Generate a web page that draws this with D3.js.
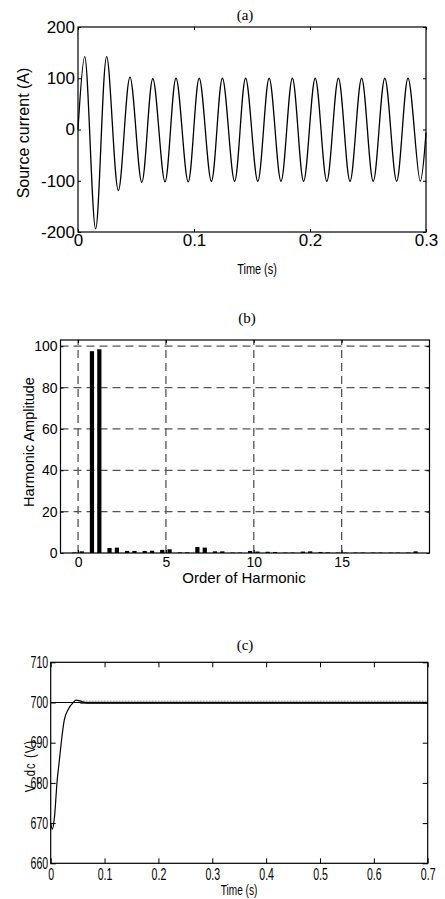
<!DOCTYPE html>
<html>
<head>
<meta charset="utf-8">
<script src="https://cdn.jsdelivr.net/npm/d3@7"></script>
<style>
body { margin: 0; background: #fff; }
svg { display: block; }
text { font-family: "Liberation Sans", Arial, Helvetica, sans-serif; fill: #000; }
.ttl { font-family: "Liberation Serif", "Times New Roman", serif; font-size: 15px; }
</style>
</head>
<body>
<script>
var w = 445;
var h = 899;

// (a) source current: peaks and troughs
var curT = [0, 0.0058, 0.0152, 0.0247, 0.0348, 0.0448, 0.055, 0.0645, 0.075, 0.0845,
            0.095, 0.1045, 0.115, 0.1245, 0.135, 0.1445, 0.155, 0.1648, 0.175, 0.1848,
            0.1945, 0.2045, 0.2145, 0.2245, 0.2345, 0.2445, 0.2545, 0.2645, 0.2747, 0.2845,
            0.295, 0.3];
var curA = [0, 142, -194, 142, -119, 102, -103, 99, -102, 100,
            -102, 100, -101, 100, -101, 100, -101, 100, -101, 100,
            -101, 100, -101, 100, -101, 100, -101, 100, -101, 100,
            -101, -6];
var curXTicks = [0, 0.1, 0.2, 0.3];
var curYTicks = [-200, -100, 0, 100, 200];

// (b) harmonic amplitudes, two bars per order
var harmOrder = [0, 1, 2, 3, 4, 5, 6, 7, 8, 9, 10, 11, 12, 13, 14, 15, 16, 17, 18, 19];
var harmA = [0.3, 97.6, 2.4, 1.0, 1.0, 1.5, 0.3, 2.9, 0.8, 0.2, 1.0, 0.6, 0.2, 0.7, 0.5, 0.2, 0.2, 0.2, 0.2, 0.2];
var harmB = [0.8, 98.5, 2.6, 1.0, 1.1, 1.8, 0.3, 2.6, 0.8, 0.2, 0.7, 0.5, 0.2, 0.8, 0.3, 0.2, 0.2, 0.2, 0.2, 0.8];
var harmXTicks = [0, 5, 10, 15];
var harmYTicks = [0, 20, 40, 60, 80, 100];

// (c) dc link voltage
var vdcT = [0, 0.003, 0.007, 0.012, 0.016, 0.02, 0.025, 0.033, 0.042, 0.047, 0.054, 0.067, 0.1, 0.2, 0.3, 0.4, 0.5, 0.6, 0.7];
var vdcV = [670, 668.5, 671.5, 680.6, 685.5, 690.5, 695.5, 698.4, 700, 700.6, 700.4, 699.9, 699.9, 699.9, 699.9, 699.9, 699.9, 699.9, 699.9];
var rippleT = [0.055, 0.2, 0.4, 0.7];
var rippleLo = [699.7, 699.7, 699.7, 699.7];
var rippleHi = [700.2, 700.2, 700.2, 700.2];
var rippleTop = [700.4, 700.4, 700.4, 700.4];
var vdcRef = 700;
var vdcXTicks = [0, 0.1, 0.2, 0.3, 0.4, 0.5, 0.6, 0.7];
var vdcYTicks = [660, 670, 680, 690, 700, 710];

var svg = d3.select("body").append("svg")
    .attr("width", w)
    .attr("height", h);

svg.append("rect").attr("width", w).attr("height", h).attr("fill", "#fff");

var fmt = function(d) { return String(d); };

// inward ticks on all four sides plus the box
function frame(x, y, xt, yt, tk) {
  var x0 = x.range()[0], x1 = x.range()[1], y0 = y.range()[0], y1 = y.range()[1];
  var axes = [
    [d3.axisBottom(x).tickValues(xt), "translate(0," + y0 + ")"],
    [d3.axisTop(x).tickValues(xt), "translate(0," + y1 + ")"],
    [d3.axisLeft(y).tickValues(yt), "translate(" + x0 + ",0)"],
    [d3.axisRight(y).tickValues(yt), "translate(" + x1 + ",0)"]
  ];
  axes.forEach(function(a) {
    var ag = svg.append("g").attr("transform", a[1]).call(a[0].tickSize(-tk).tickFormat(""));
    ag.select(".domain").remove();
    ag.selectAll("line").attr("stroke", "#000");
  });
  svg.append("rect")
    .attr("x", x0).attr("y", y1)
    .attr("width", x1 - x0).attr("height", y0 - y1)
    .attr("fill", "none").attr("stroke", "#000").attr("stroke-width", 1.2);
}

// tick labels only
function tickText(x, y, xt, yt, size, padX, padY, sx) {
  var gx = svg.append("g")
    .attr("transform", "translate(0," + y.range()[0] + ")")
    .call(d3.axisBottom(x).tickValues(xt).tickSize(0).tickPadding(padX).tickFormat(fmt));
  var gy = svg.append("g")
    .attr("transform", "translate(" + x.range()[0] + ",0)")
    .call(d3.axisLeft(y).tickValues(yt).tickSize(0).tickPadding(padY).tickFormat(fmt));
  [gx, gy].forEach(function(g) {
    g.attr("font-family", null).attr("font-size", null);
    g.select(".domain").remove();
    g.selectAll("text").style("font-size", size + "px");
  });
  if (sx) {
    gx.selectAll("text").attr("transform", "scale(" + sx + ",1)");
    gy.selectAll("text").attr("x", -padY / sx).attr("transform", "scale(" + sx + ",1)");
  }
}

function label(tx, ty, rot, size, sx, str) {
  var g = svg.append("g").attr("transform", "translate(" + tx + "," + ty + ") rotate(" + rot + ") scale(" + sx + ",1)");
  return g.append("text").attr("text-anchor", "middle").style("font-size", size + "px").text(str);
}

// ---------- (a) ----------
var xa = d3.scaleLinear().domain([0, 0.3]).range([78, 426]);
var ya = d3.scaleLinear().domain([-200, 200]).range([232, 27]);

var lineA = d3.line()
  .x(function(d, i) { return xa(curT[i]); })
  .y(function(d) { return ya(d); })
  .curve(d3.curveCatmullRom.alpha(0.5));

svg.append("path")
  .attr("d", lineA(curA))
  .attr("fill", "none")
  .attr("stroke", "#000")
  .attr("stroke-width", 1.3);

frame(xa, ya, curXTicks, curYTicks, 3);
tickText(xa, ya, curXTicks, curYTicks, 17, 2, 3);

svg.append("text").attr("class", "ttl").attr("x", 245).attr("y", 20).attr("text-anchor", "middle").text("(a)");
label(257, 274, 0, 14, 0.78, "Time (s)");
label(29, 133, -90, 16, 1, "Source current (A)");

// ---------- (b) ----------
var xb = d3.scaleLinear().domain([-1, 20]).range([60.5, 429.5]);
var yb = d3.scaleLinear().domain([0, 103]).range([553, 340]);
var off = 0.21, bw = 0.24;

harmXTicks.forEach(function(v) {
  svg.append("line")
    .attr("x1", xb(v)).attr("x2", xb(v))
    .attr("y1", yb.range()[0]).attr("y2", yb.range()[1])
    .attr("stroke", "#555").attr("stroke-width", 1.3).attr("stroke-dasharray", "8,5");
});
harmYTicks.slice(1).forEach(function(v) {
  svg.append("line")
    .attr("x1", xb.range()[0]).attr("x2", xb.range()[1])
    .attr("y1", yb(v)).attr("y2", yb(v))
    .attr("stroke", "#555").attr("stroke-width", 1.3).attr("stroke-dasharray", "8,5");
});

svg.selectAll("rect.ha")
  .data(harmA)
  .enter()
  .append("rect")
  .attr("class", "ha")
  .attr("x", function(d, i) { return xb(harmOrder[i] - off - bw / 2); })
  .attr("y", function(d) { return yb(d); })
  .attr("width", xb(bw) - xb(0))
  .attr("height", function(d) { return yb(0) - yb(d); })
  .attr("fill", "#000");

svg.selectAll("rect.hb")
  .data(harmB)
  .enter()
  .append("rect")
  .attr("class", "hb")
  .attr("x", function(d, i) { return xb(harmOrder[i] + off - bw / 2); })
  .attr("y", function(d) { return yb(d); })
  .attr("width", xb(bw) - xb(0))
  .attr("height", function(d) { return yb(0) - yb(d); })
  .attr("fill", "#000");

frame(xb, yb, harmXTicks, harmYTicks, 3);
tickText(xb, yb, harmXTicks, harmYTicks, 14, 4, 3);

svg.append("text").attr("class", "ttl").attr("x", 247).attr("y", 323).attr("text-anchor", "middle").text("(b)");
label(244, 583, 0, 15, 1, "Order of Harmonic");
label(33.7, 442, -90, 14.5, 1, "Harmonic Amplitude");

// ---------- (c) ----------
var xc = d3.scaleLinear().domain([0, 0.7]).range([50.7, 427.7]);
var yc = d3.scaleLinear().domain([660, 710]).range([863.3, 662.3]);

svg.append("line")
  .attr("x1", xc(0)).attr("x2", xc(0.7))
  .attr("y1", yc(vdcRef)).attr("y2", yc(vdcRef))
  .attr("stroke", "#000").attr("stroke-width", 1);

// grey speckle above the ripple band
var topLine = d3.line()
  .x(function(d, i) { return xc(rippleT[i]); })
  .y(function(d) { return yc(d); });

svg.append("path")
  .attr("d", topLine(rippleTop))
  .attr("fill", "none")
  .attr("stroke", "#999")
  .attr("stroke-width", 1)
  .attr("stroke-dasharray", "1,2");

var band = d3.area()
  .x(function(d, i) { return xc(rippleT[i]); })
  .y0(function(d, i) { return yc(rippleLo[i]); })
  .y1(function(d) { return yc(d); });

svg.append("path")
  .attr("d", band(rippleHi))
  .attr("fill", "#222");

var lineC = d3.line()
  .x(function(d, i) { return xc(vdcT[i]); })
  .y(function(d) { return yc(d); })
  .curve(d3.curveMonotoneX);

svg.append("path")
  .attr("d", lineC(vdcV))
  .attr("fill", "none")
  .attr("stroke", "#000")
  .attr("stroke-width", 1.2);

frame(xc, yc, vdcXTicks, vdcYTicks, 5);
tickText(xc, yc, vdcXTicks, vdcYTicks, 16, 5, 2.5, 0.66);

svg.append("text").attr("class", "ttl").attr("x", 245).attr("y", 650).attr("text-anchor", "middle").text("(c)");
label(239, 895, 0, 14, 0.72, "Time (s)");
label(35, 766, -90, 15, 0.75, "V_dc (V)").style("letter-spacing", "1.5px");
</script>
</body>
</html>
